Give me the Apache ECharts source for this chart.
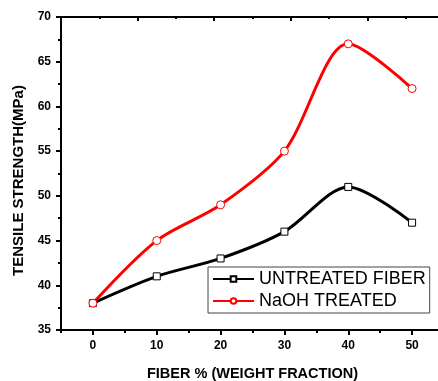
<!DOCTYPE html>
<html>
<head>
<meta charset="utf-8">
<script src="https://cdn.jsdelivr.net/npm/echarts@6/dist/echarts.min.js"></script>
<style>
html,body{margin:0;padding:0;background:#fff;}
#chart{width:438px;height:381px;}
</style>
</head>
<body>
<div id="chart"></div>
<script>
const fiberPct = [0, 10, 20, 30, 40, 50];
const untreated = [38, 41, 43, 46, 51, 47];
const naohTreated = [38, 45, 49, 55, 67, 62];
const xTickValues = [0, 10, 20, 30, 40, 50];
const seriesNames = ['UNTREATED FIBER', 'NaOH TREATED'];
const xTitle = 'FIBER % (WEIGHT FRACTION)';
const yTitle = 'TENSILE STRENGTH(MPa)';

const chart = echarts.init(document.getElementById('chart'), null, {renderer: 'canvas'});
const FONT = 'Liberation Sans, Arial, sans-serif';
const axisFont = {fontFamily: FONT, fontWeight: 'bold', fontSize: 12, color: '#000'};
chart.setOption({
  animation: false,
  backgroundColor: '#fff',
  grid: {left: 61, top: 17, width: 383, height: 313, containLabel: false, outerBoundsMode: 'none'},
  legend: {
    orient: 'vertical',
    left: 208, top: 267,
    padding: [3, 4, 3, 4],
    itemGap: 4,
    itemWidth: 41, itemHeight: 7,
    borderColor: '#444', borderWidth: 1,
    textStyle: {fontFamily: FONT, fontSize: 18, color: '#000'},
    data: seriesNames
  },
  xAxis: [{
    type: 'value', min: -5, max: 55, interval: 5,
    position: 'bottom',
    name: xTitle, nameLocation: 'middle', nameGap: 36,
    nameTextStyle: {fontFamily: FONT, fontWeight: 'bold', fontSize: 14.5, color: '#000'},
    axisLine: {onZero: false, lineStyle: {color: '#000', width: 2}},
    axisTick: {inside: false, length: 5, customValues: xTickValues, lineStyle: {width: 2, color: '#000'}},
    axisLabel: Object.assign({margin: 10, customValues: xTickValues}, axisFont),
    splitLine: {show: false}
  }, {
    type: 'value', min: -5, max: 55, interval: 5,
    position: 'bottom',
    axisLine: {show: false},
    axisTick: {inside: false, length: 3, lineStyle: {width: 2, color: '#000'}},
    axisLabel: {show: false},
    splitLine: {show: false}
  }, {
    type: 'value', min: 0, max: 5, interval: 1,
    position: 'top',
    axisLine: {onZero: false, lineStyle: {color: '#000', width: 2}},
    axisTick: {inside: true, length: 4, lineStyle: {width: 2, color: '#000'}},
    minorTick: {show: true, splitNumber: 2, length: 2, lineStyle: {width: 2, color: '#000'}},
    axisLabel: {show: false},
    splitLine: {show: false}
  }],
  yAxis: {
    type: 'value', min: 35, max: 70, interval: 5,
    name: yTitle, nameLocation: 'middle', nameGap: 33, nameRotate: 90,
    nameTextStyle: {fontFamily: FONT, fontWeight: 'bold', fontSize: 15, color: '#000', padding: [0, 0, 0, -14]},
    axisLine: {onZero: false, lineStyle: {color: '#000', width: 2}},
    axisTick: {inside: false, length: 5, lineStyle: {width: 2, color: '#000'}},
    minorTick: {show: true, splitNumber: 2, length: 3, lineStyle: {width: 2, color: '#000'}},
    axisLabel: Object.assign({margin: 10}, axisFont),
    splitLine: {show: false}
  },
  series: [{
    name: seriesNames[0], type: 'line', xAxisIndex: 0,
    data: fiberPct.map((x, i) => [x, untreated[i]]),
    smooth: 0.3,
    symbol: 'rect', symbolSize: 7,
    color: '#000',
    lineStyle: {color: '#000', width: 3},
    itemStyle: {color: '#fff', borderColor: '#000', borderWidth: 1}
  }, {
    name: seriesNames[1], type: 'line', xAxisIndex: 0,
    data: fiberPct.map((x, i) => [x, naohTreated[i]]),
    smooth: 0.3,
    symbol: 'circle', symbolSize: 8,
    color: '#ff0000',
    lineStyle: {color: '#ff0000', width: 3},
    itemStyle: {color: '#fff', borderColor: '#ff0000', borderWidth: 1}
  }]
});
</script>
</body>
</html>
